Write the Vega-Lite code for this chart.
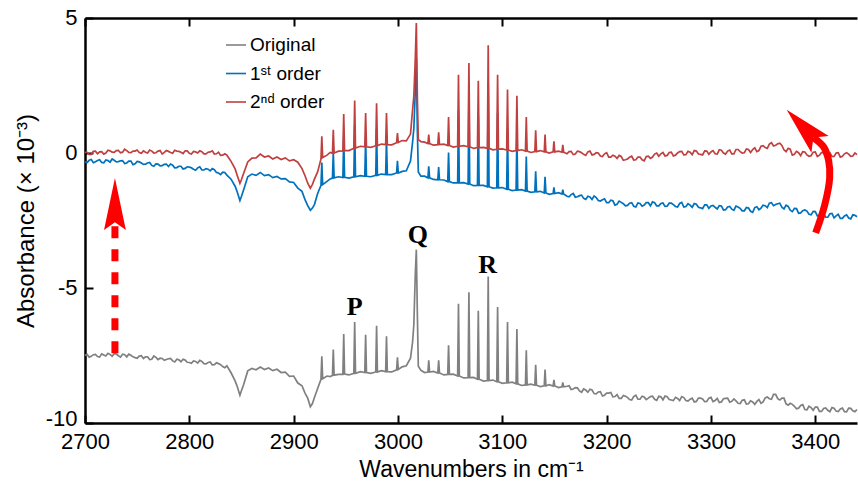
{
"$schema":"https://vega.github.io/schema/vega-lite/v6.json",
"width":772,"height":405,
"autosize":{"type":"none"},
"padding":{"left":85,"top":18,"right":1,"bottom":64},
"config":{"view":{"stroke":null},"font":"Liberation Sans"},
"datasets":{
"spec":[
{"w":2700,"o":-7.50,"f":-0.33,"s":0.02},{"w":2704,"o":-7.56,"f":-0.27,"s":-0.05},{"w":2708,"o":-7.47,"f":-0.36,"s":0.06},{"w":2712,"o":-7.54,"f":-0.28,"s":-0.03},{"w":2716,"o":-7.44,"f":-0.35,"s":0.05},{"w":2720,"o":-7.52,"f":-0.26,"s":0.00},{"w":2724,"o":-7.46,"f":-0.34,"s":0.08},{"w":2728,"o":-7.43,"f":-0.27,"s":0.02},{"w":2732,"o":-7.51,"f":-0.32,"s":0.10},{"w":2736,"o":-7.45,"f":-0.28,"s":0.03},{"w":2740,"o":-7.55,"f":-0.37,"s":0.09},{"w":2744,"o":-7.49,"f":-0.30,"s":0.01},{"w":2748,"o":-7.58,"f":-0.40,"s":0.07},{"w":2752,"o":-7.52,"f":-0.33,"s":0.02},{"w":2756,"o":-7.61,"f":-0.42,"s":0.08},{"w":2760,"o":-7.55,"f":-0.37,"s":0.00},{"w":2764,"o":-7.64,"f":-0.46,"s":0.07},{"w":2768,"o":-7.57,"f":-0.40,"s":0.01},{"w":2772,"o":-7.60,"f":-0.48,"s":0.09},{"w":2776,"o":-7.68,"f":-0.42,"s":0.02},{"w":2780,"o":-7.62,"f":-0.50,"s":0.06},{"w":2784,"o":-7.70,"f":-0.45,"s":-0.01},{"w":2788,"o":-7.64,"f":-0.54,"s":0.07},{"w":2792,"o":-7.73,"f":-0.49,"s":0.03},{"w":2796,"o":-7.67,"f":-0.57,"s":0.08},{"w":2800,"o":-7.76,"f":-0.52,"s":-0.01},{"w":2804,"o":-7.70,"f":-0.60,"s":0.06},{"w":2808,"o":-7.78,"f":-0.55,"s":0.00},{"w":2812,"o":-7.72,"f":-0.63,"s":0.05},{"w":2816,"o":-7.81,"f":-0.58,"s":-0.03},{"w":2820,"o":-7.74,"f":-0.66,"s":0.04},{"w":2824,"o":-7.84,"f":-0.62,"s":-0.04},{"w":2828,"o":-7.80,"f":-0.74,"s":0.03},{"w":2832,"o":-7.91,"f":-0.71,"s":-0.08},{"w":2836,"o":-7.88,"f":-0.82,"s":-0.08},{"w":2840,"o":-8.14,"f":-0.97,"s":-0.31},{"w":2844,"o":-8.45,"f":-1.24,"s":-0.60},{"w":2846,"o":-8.66,"f":-1.45,"s":-0.84},{"w":2848.5,"o":-8.97,"f":-1.76,"s":-1.12},{"w":2850,"o":-8.80,"f":-1.60,"s":-0.98},{"w":2852,"o":-8.58,"f":-1.37,"s":-0.76},{"w":2856,"o":-8.07,"f":-0.88,"s":-0.33},{"w":2860,"o":-7.98,"f":-0.78,"s":-0.19},{"w":2864,"o":-8.03,"f":-0.83,"s":-0.18},{"w":2868,"o":-7.93,"f":-0.72,"s":-0.04},{"w":2872,"o":-8.02,"f":-0.84,"s":-0.15},{"w":2876,"o":-7.96,"f":-0.80,"s":-0.11},{"w":2880,"o":-8.06,"f":-0.91,"s":-0.22},{"w":2884,"o":-8.01,"f":-0.87,"s":-0.15},{"w":2888,"o":-8.13,"f":-0.96,"s":-0.24},{"w":2892,"o":-8.12,"f":-0.95,"s":-0.18},{"w":2896,"o":-8.27,"f":-1.07,"s":-0.29},{"w":2900,"o":-8.26,"f":-1.09,"s":-0.25},{"w":2904,"o":-8.52,"f":-1.30,"s":-0.34},{"w":2908,"o":-8.62,"f":-1.42,"s":-0.58},{"w":2911,"o":-8.90,"f":-1.74,"s":-0.85},{"w":2913.5,"o":-9.08,"f":-1.95,"s":-1.12},{"w":2916,"o":-9.40,"f":-2.12,"s":-1.30},{"w":2918,"o":-9.28,"f":-2.04,"s":-1.16},{"w":2920,"o":-9.05,"f":-1.90,"s":-0.96},{"w":2923,"o":-8.72,"f":-1.50,"s":-0.70},
{"w":2926.2,"o":-8.38,"f":-1.20,"s":-0.22},{"w":2927,"o":-7.53,"f":-0.35,"s":0.62},{"w":2927.8,"o":-8.36,"f":-1.17,"s":-0.17},{"w":2932,"o":-8.26,"f":-1.05,"s":-0.08},{"w":2935,"o":-8.28,"f":-0.96,"s":0.02},
{"w":2937.2,"o":-8.24,"f":-0.93,"s":-0.01},{"w":2938,"o":-7.28,"f":0.03,"s":0.86},{"w":2938.8,"o":-8.23,"f":-0.92,"s":0.00},{"w":2943,"o":-8.20,"f":-0.88,"s":0.07},
{"w":2947.2,"o":-8.20,"f":-0.91,"s":0.08},{"w":2948,"o":-6.70,"f":0.59,"s":1.44},{"w":2948.8,"o":-8.19,"f":-0.90,"s":0.09},{"w":2953,"o":-8.22,"f":-0.93,"s":0.09},
{"w":2957.7,"o":-8.16,"f":-0.88,"s":0.18},{"w":2958.5,"o":-6.26,"f":1.02,"s":1.94},{"w":2959.3,"o":-8.16,"f":-0.88,"s":0.18},{"w":2964,"o":-8.10,"f":-0.84,"s":0.25},
{"w":2968.2,"o":-8.13,"f":-0.86,"s":0.23},{"w":2969,"o":-6.73,"f":0.54,"s":1.48},{"w":2969.8,"o":-8.13,"f":-0.86,"s":0.23},{"w":2974,"o":-8.16,"f":-0.88,"s":0.21},
{"w":2978.7,"o":-8.11,"f":-0.83,"s":0.27},{"w":2979.5,"o":-6.40,"f":0.88,"s":1.84},{"w":2980.3,"o":-8.11,"f":-0.83,"s":0.27},{"w":2984,"o":-8.06,"f":-0.78,"s":0.33},
{"w":2988.2,"o":-8.10,"f":-0.80,"s":0.31},{"w":2989,"o":-6.79,"f":0.51,"s":1.48},{"w":2989.8,"o":-8.10,"f":-0.80,"s":0.31},{"w":2994,"o":-8.11,"f":-0.80,"s":0.30},
{"w":2998.7,"o":-8.03,"f":-0.74,"s":0.38},{"w":2999.5,"o":-7.57,"f":-0.29,"s":0.74},{"w":3000.3,"o":-8.02,"f":-0.74,"s":0.39},{"w":3004,"o":-7.92,"f":-0.68,"s":0.46},
{"w":3008,"o":-7.88,"f":-0.66,"s":0.45},{"w":3012,"o":-7.60,"f":-0.30,"s":0.70},{"w":3014,"o":-7.00,"f":0.40,"s":1.60},{"w":3015.2,"o":-6.36,"f":0.90,"s":2.10},{"w":3016.6,"o":-4.50,"f":2.30,"s":3.50},{"w":3017.6,"o":-3.58,"f":3.52,"s":4.81},{"w":3018.6,"o":-6.00,"f":0.80,"s":2.00},{"w":3019.5,"o":-7.90,"f":-0.70,"s":0.50},{"w":3022,"o":-8.05,"f":-0.86,"s":0.42},{"w":3025.5,"o":-8.13,"f":-0.86,"s":0.40},
{"w":3028.7,"o":-8.11,"f":-0.92,"s":0.35},{"w":3029.5,"o":-7.68,"f":-0.49,"s":0.68},{"w":3030.3,"o":-8.11,"f":-0.92,"s":0.35},{"w":3034,"o":-8.09,"f":-0.98,"s":0.29},
{"w":3038.2,"o":-8.15,"f":-0.99,"s":0.31},{"w":3039,"o":-7.68,"f":-0.52,"s":0.77},{"w":3039.8,"o":-8.15,"f":-0.99,"s":0.31},{"w":3044,"o":-8.22,"f":-1.00,"s":0.33},
{"w":3047.7,"o":-8.20,"f":-1.06,"s":0.28},{"w":3048.5,"o":-7.12,"f":0.02,"s":1.33},{"w":3049.3,"o":-8.20,"f":-1.06,"s":0.28},{"w":3053,"o":-8.19,"f":-1.11,"s":0.22},
{"w":3057.2,"o":-8.26,"f":-1.11,"s":0.25},{"w":3058,"o":-5.58,"f":1.57,"s":2.90},{"w":3058.8,"o":-8.26,"f":-1.11,"s":0.25},{"w":3063,"o":-8.33,"f":-1.10,"s":0.27},
{"w":3067.2,"o":-8.32,"f":-1.15,"s":0.23},{"w":3068,"o":-5.16,"f":2.01,"s":3.33},{"w":3068.8,"o":-8.32,"f":-1.15,"s":0.23},{"w":3072.5,"o":-8.31,"f":-1.21,"s":0.17},
{"w":3076.2,"o":-8.38,"f":-1.20,"s":0.20},{"w":3077,"o":-5.84,"f":1.34,"s":2.68},{"w":3077.8,"o":-8.38,"f":-1.20,"s":0.20},{"w":3082,"o":-8.45,"f":-1.20,"s":0.21},
{"w":3085.7,"o":-8.43,"f":-1.25,"s":0.17},{"w":3086.5,"o":-4.57,"f":2.61,"s":3.99},{"w":3087.3,"o":-8.43,"f":-1.25,"s":0.17},{"w":3091,"o":-8.41,"f":-1.30,"s":0.12},
{"w":3094.7,"o":-8.47,"f":-1.29,"s":0.14},{"w":3095.5,"o":-5.70,"f":1.48,"s":2.90},{"w":3096.3,"o":-8.47,"f":-1.29,"s":0.14},{"w":3100,"o":-8.53,"f":-1.28,"s":0.15},
{"w":3104.2,"o":-8.51,"f":-1.34,"s":0.11},{"w":3105,"o":-6.26,"f":0.91,"s":2.35},{"w":3105.8,"o":-8.51,"f":-1.34,"s":0.11},{"w":3109.5,"o":-8.49,"f":-1.39,"s":0.06},
{"w":3113.2,"o":-8.55,"f":-1.37,"s":0.09},{"w":3114,"o":-6.52,"f":0.66,"s":2.12},{"w":3114.8,"o":-8.55,"f":-1.37,"s":0.09},{"w":3118.5,"o":-8.61,"f":-1.36,"s":0.12},
{"w":3122.2,"o":-8.59,"f":-1.41,"s":0.07},{"w":3123,"o":-7.31,"f":-0.13,"s":1.33},{"w":3123.8,"o":-8.59,"f":-1.41,"s":0.07},{"w":3127.5,"o":-8.56,"f":-1.46,"s":0.02},
{"w":3131.2,"o":-8.60,"f":-1.44,"s":0.05},{"w":3132,"o":-7.84,"f":-0.68,"s":0.84},{"w":3132.8,"o":-8.60,"f":-1.44,"s":0.05},{"w":3136.5,"o":-8.65,"f":-1.42,"s":0.09},
{"w":3140.2,"o":-8.62,"f":-1.48,"s":0.04},{"w":3141,"o":-8.02,"f":-0.88,"s":0.68},{"w":3141.8,"o":-8.62,"f":-1.48,"s":0.04},{"w":3145,"o":-8.58,"f":-1.53,"s":0.00},
{"w":3148.7,"o":-8.63,"f":-1.50,"s":0.04},{"w":3149.5,"o":-8.40,"f":-1.27,"s":0.43},{"w":3150.3,"o":-8.63,"f":-1.50,"s":0.04},{"w":3154,"o":-8.69,"f":-1.47,"s":0.07},
{"w":3157.2,"o":-8.66,"f":-1.52,"s":0.03},{"w":3158,"o":-8.50,"f":-1.36,"s":0.30},{"w":3158.8,"o":-8.66,"f":-1.52,"s":0.03},
{"w":3162,"o":-8.64,"f":-1.60,"s":-0.03},{"w":3166,"o":-8.76,"f":-1.54,"s":0.06},{"w":3170,"o":-8.69,"f":-1.64,"s":-0.04},{"w":3174,"o":-8.81,"f":-1.58,"s":0.05},{"w":3178,"o":-8.74,"f":-1.68,"s":-0.05},{"w":3182,"o":-8.86,"f":-1.60,"s":0.04},{"w":3186,"o":-8.78,"f":-1.72,"s":-0.07},{"w":3190,"o":-8.92,"f":-1.65,"s":0.01},{"w":3194,"o":-8.84,"f":-1.78,"s":-0.11},{"w":3198,"o":-8.97,"f":-1.70,"s":-0.03},{"w":3202,"o":-8.89,"f":-1.84,"s":-0.15},{"w":3206,"o":-9.03,"f":-1.77,"s":-0.08},{"w":3210,"o":-8.95,"f":-1.90,"s":-0.20},{"w":3214,"o":-9.09,"f":-1.83,"s":-0.13},{"w":3218,"o":-9.01,"f":-1.96,"s":-0.25},{"w":3222,"o":-9.13,"f":-1.86,"s":-0.16},{"w":3226,"o":-9.02,"f":-1.97,"s":-0.26},{"w":3230,"o":-9.12,"f":-1.85,"s":-0.15},{"w":3234,"o":-9.01,"f":-1.97,"s":-0.25},{"w":3238,"o":-9.13,"f":-1.84,"s":-0.13},{"w":3242,"o":-9.02,"f":-1.96,"s":-0.20},{"w":3246,"o":-9.12,"f":-1.84,"s":-0.04},{"w":3250,"o":-9.01,"f":-1.96,"s":-0.12},{"w":3254,"o":-9.14,"f":-1.85,"s":0.02},{"w":3258,"o":-9.03,"f":-1.97,"s":-0.09},{"w":3262,"o":-9.15,"f":-1.86,"s":0.03},{"w":3266,"o":-9.05,"f":-1.98,"s":-0.08},{"w":3270,"o":-9.17,"f":-1.87,"s":0.05},{"w":3274,"o":-9.06,"f":-2.00,"s":-0.07},{"w":3278,"o":-9.19,"f":-1.88,"s":0.06},{"w":3282,"o":-9.08,"f":-2.01,"s":-0.06},{"w":3286,"o":-9.20,"f":-1.90,"s":0.07},{"w":3290,"o":-9.08,"f":-2.03,"s":-0.05},{"w":3294,"o":-9.21,"f":-1.92,"s":0.08},{"w":3298,"o":-9.08,"f":-2.05,"s":-0.05},{"w":3302,"o":-9.21,"f":-1.94,"s":0.09},{"w":3306,"o":-9.09,"f":-2.07,"s":-0.04},{"w":3310,"o":-9.22,"f":-1.96,"s":0.10},{"w":3314,"o":-9.09,"f":-2.10,"s":-0.04},{"w":3318,"o":-9.23,"f":-1.98,"s":0.11},{"w":3322,"o":-9.11,"f":-2.12,"s":-0.03},{"w":3326,"o":-9.27,"f":-2.00,"s":0.13},{"w":3330,"o":-9.16,"f":-2.14,"s":0.00},{"w":3334,"o":-9.30,"f":-2.02,"s":0.15},{"w":3338,"o":-9.18,"f":-2.16,"s":0.02},{"w":3342,"o":-9.31,"f":-2.02,"s":0.19},{"w":3346,"o":-9.13,"f":-2.10,"s":0.09},{"w":3350,"o":-9.22,"f":-1.93,"s":0.27},{"w":3354,"o":-9.04,"f":-2.02,"s":0.17},{"w":3358,"o":-9.12,"f":-1.84,"s":0.38},{"w":3362,"o":-8.94,"f":-1.91,"s":0.29},{"w":3366,"o":-9.15,"f":-1.86,"s":0.36},{"w":3370,"o":-9.08,"f":-2.07,"s":0.12},{"w":3374,"o":-9.34,"f":-1.98,"s":0.17},{"w":3378,"o":-9.31,"f":-2.17,"s":-0.08},{"w":3382,"o":-9.47,"f":-2.06,"s":0.06},{"w":3386,"o":-9.35,"f":-2.22,"s":-0.10},{"w":3390,"o":-9.50,"f":-2.11,"s":0.04},{"w":3394,"o":-9.38,"f":-2.27,"s":-0.12},{"w":3398,"o":-9.53,"f":-2.16,"s":0.03},{"w":3402,"o":-9.41,"f":-2.33,"s":-0.13},{"w":3406,"o":-9.57,"f":-2.21,"s":0.02},{"w":3410,"o":-9.44,"f":-2.38,"s":-0.13},{"w":3414,"o":-9.58,"f":-2.25,"s":0.01},{"w":3418,"o":-9.45,"f":-2.40,"s":-0.13},{"w":3422,"o":-9.58,"f":-2.27,"s":0.01},{"w":3426,"o":-9.45,"f":-2.42,"s":-0.12},{"w":3430,"o":-9.59,"f":-2.29,"s":0.01},{"w":3434,"o":-9.46,"f":-2.44,"s":-0.12},{"w":3438,"o":-9.58,"f":-2.31,"s":0.00},{"w":3440,"o":-9.50,"f":-2.36,"s":-0.06},
{"w":2702,"o":-7.46,"f":-0.35,"s":0.02},{"w":2706,"o":-7.53,"f":-0.24,"s":-0.05},{"w":2710,"o":-7.46,"f":-0.32,"s":0.07},{"w":2714,"o":-7.56,"f":-0.25,"s":0.04},{"w":2718,"o":-7.48,"f":-0.36,"s":-0.04},{"w":2722,"o":-7.42,"f":-0.28,"s":0.10},{"w":2726,"o":-7.53,"f":-0.22,"s":0.03},{"w":2730,"o":-7.45,"f":-0.33,"s":0.09},{"w":2734,"o":-7.56,"f":-0.29,"s":0.01},{"w":2738,"o":-7.47,"f":-0.39,"s":0.14},{"w":2742,"o":-7.45,"f":-0.30,"s":0.02},{"w":2746,"o":-7.55,"f":-0.43,"s":0.07},{"w":2750,"o":-7.60,"f":-0.31,"s":0.11},{"w":2754,"o":-7.51,"f":-0.37,"s":-0.01},{"w":2758,"o":-7.55,"f":-0.41,"s":0.03},{"w":2762,"o":-7.65,"f":-0.35,"s":0.11},{"w":2766,"o":-7.52,"f":-0.49,"s":0.00},{"w":2770,"o":-7.65,"f":-0.41,"s":0.07},{"w":2774,"o":-7.61,"f":-0.47,"s":-0.04},{"w":2778,"o":-7.65,"f":-0.41,"s":0.09},{"w":2782,"o":-7.61,"f":-0.41,"s":0.02},{"w":2786,"o":-7.74,"f":-0.55,"s":0.10},{"w":2790,"o":-7.66,"f":-0.49,"s":0.06},{"w":2794,"o":-7.64,"f":-0.59,"s":-0.02},{"w":2798,"o":-7.75,"f":-0.51,"s":0.08},{"w":2802,"o":-7.79,"f":-0.55,"s":-0.04},{"w":2806,"o":-7.72,"f":-0.64,"s":0.04},{"w":2810,"o":-7.68,"f":-0.51,"s":0.08},{"w":2814,"o":-7.80,"f":-0.63,"s":-0.03},{"w":2818,"o":-7.76,"f":-0.60,"s":0.03},{"w":2822,"o":-7.85,"f":-0.58,"s":0.08},{"w":2826,"o":-7.77,"f":-0.72,"s":-0.03},{"w":2830,"o":-7.84,"f":-0.80,"s":-0.09},{"w":2834,"o":-7.95,"f":-0.72,"s":-0.03},
{"w":3164,"o":-8.62,"f":-1.62,"s":0.05},{"w":3168,"o":-8.74,"f":-1.50,"s":-0.06},{"w":3172,"o":-8.70,"f":-1.62,"s":0.07},{"w":3176,"o":-8.86,"f":-1.56,"s":0.01},{"w":3180,"o":-8.78,"f":-1.72,"s":-0.09},{"w":3184,"o":-8.75,"f":-1.63,"s":0.07},{"w":3188,"o":-8.91,"f":-1.59,"s":-0.05},{"w":3192,"o":-8.85,"f":-1.76,"s":0.00},{"w":3196,"o":-9.00,"f":-1.73,"s":-0.13},{"w":3200,"o":-8.89,"f":-1.84,"s":0.01},{"w":3204,"o":-8.87,"f":-1.75,"s":-0.15},{"w":3208,"o":-9.02,"f":-1.93,"s":-0.12},{"w":3212,"o":-9.09,"f":-1.78,"s":-0.09},{"w":3216,"o":-8.98,"f":-1.88,"s":-0.27},{"w":3220,"o":-9.05,"f":-1.94,"s":-0.22},{"w":3224,"o":-9.15,"f":-1.84,"s":-0.12},{"w":3228,"o":-8.97,"f":-2.00,"s":-0.25},{"w":3232,"o":-9.12,"f":-1.87,"s":-0.15},{"w":3236,"o":-9.04,"f":-1.93,"s":-0.29},{"w":3240,"o":-9.08,"f":-1.84,"s":-0.12},{"w":3244,"o":-9.01,"f":-1.81,"s":-0.15},{"w":3248,"o":-9.16,"f":-1.96,"s":0.00},{"w":3252,"o":-9.03,"f":-1.87,"s":-0.03},{"w":3256,"o":-9.00,"f":-1.98,"s":-0.11},{"w":3260,"o":-9.13,"f":-1.86,"s":0.02},{"w":3264,"o":-9.17,"f":-1.91,"s":-0.11},{"w":3268,"o":-9.09,"f":-2.00,"s":0.00},{"w":3272,"o":-9.02,"f":-1.83,"s":0.06},{"w":3276,"o":-9.17,"f":-1.98,"s":-0.06},{"w":3280,"o":-9.12,"f":-1.93,"s":0.03},{"w":3284,"o":-9.22,"f":-1.87,"s":0.09},{"w":3288,"o":-9.08,"f":-2.01,"s":-0.04},{"w":3292,"o":-9.11,"f":-2.06,"s":-0.07},{"w":3296,"o":-9.20,"f":-1.92,"s":0.07},{"w":3300,"o":-9.05,"f":-1.96,"s":0.04},{"w":3304,"o":-9.17,"f":-2.01,"s":-0.03},{"w":3308,"o":-9.24,"f":-1.95,"s":0.12},{"w":3312,"o":-9.10,"f":-2.11,"s":0.00},{"w":3316,"o":-9.08,"f":-2.00,"s":0.07},{"w":3320,"o":-9.20,"f":-2.08,"s":-0.03},{"w":3324,"o":-9.18,"f":-1.97,"s":0.13},{"w":3328,"o":-9.28,"f":-2.05,"s":0.05},{"w":3332,"o":-9.14,"f":-2.14,"s":0.01},{"w":3336,"o":-9.29,"f":-2.04,"s":0.13},{"w":3340,"o":-9.22,"f":-2.20,"s":0.13},{"w":3344,"o":-9.20,"f":-1.99,"s":0.05},{"w":3348,"o":-9.27,"f":-2.04,"s":0.25},{"w":3352,"o":-9.07,"f":-1.95,"s":0.20},{"w":3356,"o":-9.10,"f":-1.86,"s":0.33},{"w":3360,"o":-8.94,"f":-1.95,"s":0.26},{"w":3364,"o":-9.10,"f":-1.88,"s":0.34},{"w":3368,"o":-9.08,"f":-2.01,"s":0.28},{"w":3372,"o":-9.29,"f":-1.93,"s":0.05},{"w":3376,"o":-9.27,"f":-2.12,"s":0.14},{"w":3380,"o":-9.38,"f":-2.05,"s":-0.05},{"w":3384,"o":-9.45,"f":-2.23,"s":0.01},{"w":3388,"o":-9.32,"f":-2.14,"s":0.05},{"w":3392,"o":-9.51,"f":-2.15,"s":-0.07},{"w":3396,"o":-9.43,"f":-2.29,"s":-0.10},{"w":3400,"o":-9.41,"f":-2.17,"s":0.04},{"w":3404,"o":-9.57,"f":-2.30,"s":-0.08},{"w":3408,"o":-9.46,"f":-2.25,"s":0.00},{"w":3412,"o":-9.53,"f":-2.38,"s":-0.05},{"w":3416,"o":-9.43,"f":-2.24,"s":-0.13},{"w":3420,"o":-9.56,"f":-2.33,"s":0.00},{"w":3424,"o":-9.48,"f":-2.42,"s":-0.15},{"w":3428,"o":-9.58,"f":-2.33,"s":-0.03},{"w":3432,"o":-9.45,"f":-2.41,"s":-0.04},{"w":3436,"o":-9.55,"f":-2.29,"s":-0.11}
],
"ann":[{"w":2958.5,"v":-6.0,"t":"P"},{"w":3019.0,"v":-3.35,"t":"Q"},{"w":3086.0,"v":-4.45,"t":"R"}],
"dash":[{"w":2728.7,"a":-7.42,"b":-2.65}],
"head1":[{"w":2728.7,"v":-1.89}],
"head2":[{"w":3388.6,"v":0.96}],
"curve":[{"i":1,"w":3400.4,"v":-2.96},{"i":2,"w":3409.0,"v":-1.93},{"i":3,"w":3413.8,"v":-0.93},{"i":4,"w":3412.9,"v":-0.30},{"i":5,"w":3408.1,"v":0.22},{"i":6,"w":3398.2,"v":0.57}]
},
"resolve":{"axis":{"x":"independent","y":"independent"}},
"layer":[
{"data":{"name":"spec"},
 "transform":[{"fold":["o","f","s"],"as":["k","v"]}],
 "mark":{"type":"line","strokeWidth":1.7},
 "encoding":{
  "x":{"field":"w","type":"quantitative","scale":{"domain":[2700,3440],"nice":false,"zero":false},
   "axis":{"orient":"bottom","values":[2700,2800,2900,3000,3100,3200,3300,3400],"format":"d","tickSize":-8,"tickWidth":2,"tickColor":"black","domainColor":"black","domainWidth":2.5,"labelPadding":16,"labelFontSize":22,"labelFont":"Liberation Sans","labelColor":"black","labelFlush":false,"labelOverlap":false,"grid":false,"title":"Wavenumbers in cm⁻¹","titleFontSize":23,"titleFont":"Liberation Sans","titleFontWeight":"normal","titleColor":"black","titlePadding":6}},
  "y":{"field":"v","type":"quantitative","scale":{"domain":[-10,5],"nice":false,"zero":false},
   "axis":{"orient":"left","values":[-10,-5,0,5],"labelExpr":"'' + datum.value","labelOffset":{"condition":{"test":"datum.value == -10","value":-5},"value":-1},"tickSize":-8,"tickWidth":2,"tickColor":"black","domainColor":"black","domainWidth":2.5,"labelPadding":16,"labelFontSize":22,"labelFont":"Liberation Sans","labelColor":"black","labelFlush":false,"labelOverlap":false,"grid":false,"title":"Absorbance (× 10⁻³)","titleFontSize":24,"titleFont":"Liberation Sans","titleFontWeight":"normal","titleColor":"black","titlePadding":7}},
  "color":{"field":"k","type":"nominal","scale":{"domain":["o","f","s"],"range":["#808080","#0072BD","#C04040"]},
   "legend":{"orient":"none","legendX":140,"legendY":16,"title":null,"symbolType":"stroke","symbolSize":400,"symbolStrokeWidth":1.6,"labelFontSize":19,"labelFont":"Liberation Sans","labelColor":"black","rowPadding":7.5,"labelOffset":3,"padding":0,
    "labelExpr":"datum.value == 'o' ? 'Original' : datum.value == 'f' ? '1ˢᵗ order' : '2ⁿᵈ order'"}}
 }},
{"mark":{"type":"rule","color":"black","strokeWidth":1.3,"strokeDash":[6,4]},
 "encoding":{"y":{"datum":0,"type":"quantitative","scale":{"domain":[-10,5],"nice":false,"zero":false},"axis":null}}},
{"data":{"name":"dash"},
 "mark":{"type":"rule","color":"#FF0000","strokeWidth":7,"strokeDash":[12,11]},
 "encoding":{"x":{"field":"w","type":"quantitative","scale":{"domain":[2700,3440],"nice":false,"zero":false},"axis":null},
  "y":{"field":"a","type":"quantitative","scale":{"domain":[-10,5],"nice":false,"zero":false},"axis":null},
  "y2":{"field":"b"}}},
{"data":{"name":"head1"},
 "mark":{"type":"point","shape":"M0,-1L0.42,1L0,0.7L-0.42,1Z","size":2704,"filled":true,"color":"#FF0000","opacity":1,"strokeWidth":0},
 "encoding":{"x":{"field":"w","type":"quantitative","scale":{"domain":[2700,3440],"nice":false,"zero":false},"axis":null},
  "y":{"field":"v","type":"quantitative","scale":{"domain":[-10,5],"nice":false,"zero":false},"axis":null}}},
{"data":{"name":"curve"},
 "mark":{"type":"line","color":"#FF0000","strokeWidth":7,"interpolate":"catmull-rom"},
 "encoding":{"x":{"field":"w","type":"quantitative","scale":{"domain":[2700,3440],"nice":false,"zero":false},"axis":null},
  "y":{"field":"v","type":"quantitative","scale":{"domain":[-10,5],"nice":false,"zero":false},"axis":null},
  "order":{"field":"i","type":"quantitative"}}},
{"data":{"name":"head2"},
 "mark":{"type":"point","shape":"M0,-1L0.5,1L0,0.6L-0.5,1Z","size":2304,"angle":-44,"filled":true,"color":"#FF0000","opacity":1,"strokeWidth":0},
 "encoding":{"x":{"field":"w","type":"quantitative","scale":{"domain":[2700,3440],"nice":false,"zero":false},"axis":null},
  "y":{"field":"v","type":"quantitative","scale":{"domain":[-10,5],"nice":false,"zero":false},"axis":null}}},
{"data":{"name":"ann"},
 "mark":{"type":"text","font":"Liberation Serif","fontWeight":"bold","fontSize":26,"align":"center","baseline":"alphabetic","color":"black"},
 "encoding":{"x":{"field":"w","type":"quantitative","scale":{"domain":[2700,3440],"nice":false,"zero":false},
   "axis":{"orient":"top","values":[2700,2800,2900,3000,3100,3200,3300,3400],"labels":false,"title":null,"tickSize":-8,"tickWidth":2,"tickColor":"black","domainColor":"black","domainWidth":2.5,"grid":false}},
  "y":{"field":"v","type":"quantitative","scale":{"domain":[-10,5],"nice":false,"zero":false},"axis":null},
  "text":{"field":"t"}}}
]
}
